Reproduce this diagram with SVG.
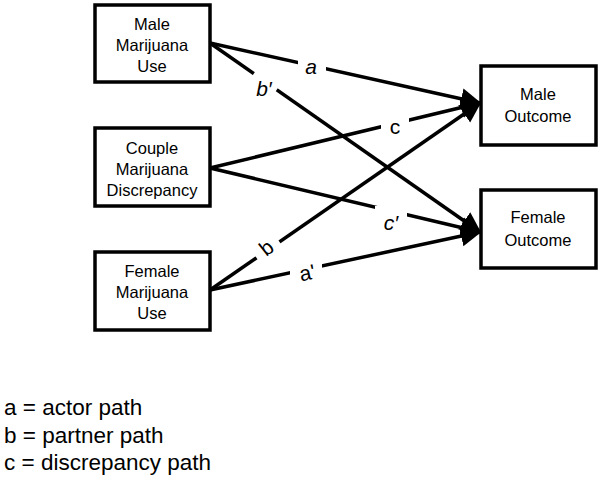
<svg xmlns="http://www.w3.org/2000/svg" width="602" height="480" viewBox="0 0 602 480">
<style>
.box{fill:#fff;stroke:#000;stroke-width:3.5}
.t{font-family:"Liberation Sans",Arial,sans-serif;font-size:16.5px;text-anchor:middle;fill:#000}
.c{stroke:#000;stroke-width:3.5;fill:none;marker-end:url(#ah)}
.lb{font-family:"Liberation Sans",Arial,sans-serif;font-size:21px;text-anchor:middle;fill:#000}
.bg{fill:#fff}
.lg{font-family:"Liberation Sans",Arial,sans-serif;font-size:22.5px;fill:#000}
</style>
<defs>
<marker id="ah" markerWidth="7" markerHeight="7" refX="5.5" refY="3.2" orient="auto" markerUnits="strokeWidth">
<path d="M0,0.2 L6,3.2 L0,6.2 Z" fill="#000"/>
</marker>
</defs>
<rect width="602" height="480" fill="#fff"/>
<g id="connectors">
<path class="c" d="M210,43 L480,103"/>
<path class="c" d="M210,43 L480,232"/>
<path class="c" d="M210,168 L480,103"/>
<path class="c" d="M210,168 L480,232"/>
<path class="c" d="M210,290 L480,103"/>
<path class="c" d="M210,290 L480,232"/>
<g id="labels">
<rect class="bg" x="298" y="52" width="28" height="24"/>
<text class="lb" x="311" y="74" font-style="italic">a</text>
<rect class="bg" x="249" y="71" width="28" height="28" transform="rotate(35 263 85)"/>
<text class="lb" x="264" y="96" font-style="italic">b′</text>
<rect class="bg" x="381" y="112" width="28" height="24"/>
<text class="lb" x="395" y="134">c</text>
<rect class="bg" x="375" y="206" width="32" height="24"/>
<text class="lb" x="391" y="230" font-style="italic">c′</text>
<rect class="bg" x="252" y="233" width="28" height="28" transform="rotate(-35 266 247)"/>
<text class="lb" x="266" y="255" transform="rotate(-38 266 247)">b</text>
<rect class="bg" x="290" y="257" width="32" height="26"/>
<text class="lb" x="307" y="280" transform="rotate(-12 307 272)">a'</text>
</g>
</g>
<g id="male-use">
<rect class="box" x="95" y="5" width="115" height="77"/>
<text class="t" x="152" y="30">Male</text>
<text class="t" x="152" y="51">Marijuana</text>
<text class="t" x="152" y="72">Use</text>
</g>
<g id="couple-discrepancy">
<rect class="box" x="95" y="128" width="115" height="78"/>
<text class="t" x="152" y="154">Couple</text>
<text class="t" x="152" y="175">Marijuana</text>
<text class="t" x="152" y="196">Discrepancy</text>
</g>
<g id="female-use">
<rect class="box" x="95" y="252" width="115" height="78"/>
<text class="t" x="152" y="277">Female</text>
<text class="t" x="152" y="298">Marijuana</text>
<text class="t" x="152" y="319">Use</text>
</g>
<g id="male-outcome">
<rect class="box" x="481" y="66" width="115" height="79"/>
<text class="t" x="538" y="100">Male</text>
<text class="t" x="538" y="122">Outcome</text>
</g>
<g id="female-outcome">
<rect class="box" x="481" y="190" width="115" height="78"/>
<text class="t" x="538" y="223">Female</text>
<text class="t" x="538" y="246">Outcome</text>
</g>
<g id="legend">
<text class="lg" x="4" y="415">a = actor path</text>
<text class="lg" x="4" y="443">b = partner path</text>
<text class="lg" x="4" y="470">c = discrepancy path</text>
</g>
</svg>
